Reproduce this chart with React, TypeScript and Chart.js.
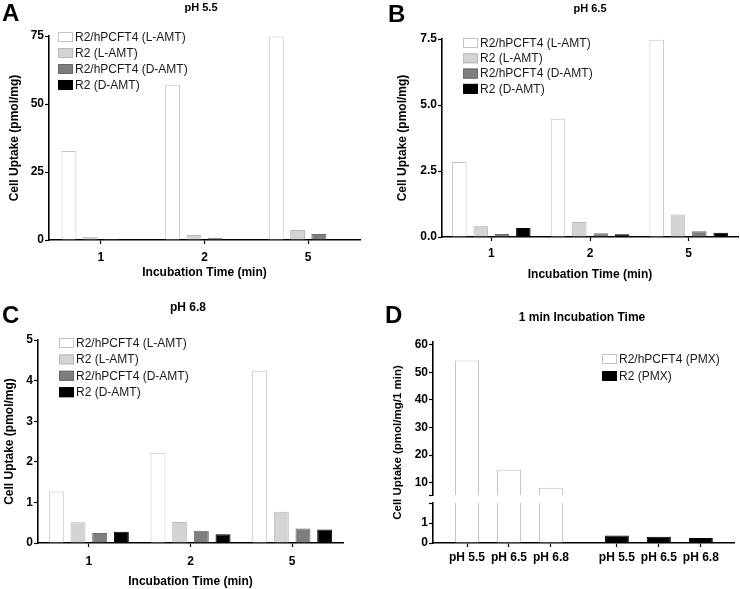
import React, { useEffect, useRef } from "react";
import { Chart, registerables } from "chart.js";

Chart.register(...registerables);

const FONT = "Arial, 'Liberation Sans', Helvetica, sans-serif";

// ---------------- data ----------------
const TIME_LABELS = ["1", "2", "5"];
const SERIES_NAMES = ["R2/hPCFT4 (L-AMT)", "R2 (L-AMT)", "R2/hPCFT4 (D-AMT)", "R2 (D-AMT)"];

// pH 5.5
const PH55_HPCFT4_L = [32.7, 57.1, 74.8];
const PH55_R2_L = [1.2, 1.8, 3.7];
const PH55_HPCFT4_D = [0.4, 0.85, 2.2];
const PH55_R2_D = [0.1, 0.1, 0.1];
const PH55_Y_TICKS = [0, 25, 50, 75];

// pH 6.5
const PH65_HPCFT4_L = [2.84, 4.48, 7.47];
const PH65_R2_L = [0.43, 0.57, 0.85];
const PH65_HPCFT4_D = [0.11, 0.14, 0.22];
const PH65_R2_D = [0.34, 0.1, 0.16];
const PH65_Y_TICKS = [0, 2.5, 5, 7.5];

// pH 6.8
const PH68_HPCFT4_L = [1.27, 2.22, 4.24];
const PH68_R2_L = [0.51, 0.52, 0.77];
const PH68_HPCFT4_D = [0.245, 0.3, 0.36];
const PH68_R2_D = [0.28, 0.215, 0.33];
const PH68_Y_TICKS = [0, 1, 2, 3, 4, 5];

// 1 min incubation, PMX
const PMX_LABELS = ["pH 5.5", "pH 6.5", "pH 6.8"];
const PMX_HPCFT4 = [54.3, 14.7, 8.1];
const PMX_R2 = [0.37, 0.31, 0.25];
const PMX_HPCFT4_X = [1, 2, 3];
const PMX_R2_X = [4.57, 5.57, 6.57];
const PMX_UPPER_TICKS = [10, 20, 30, 40, 50, 60];
const PMX_LOWER_TICKS = [0, 1];
const PMX_BREAK_LOW = 2;
const PMX_BREAK_HIGH = 5.5;
const PMX_TOP = 61;
const PMX_SERIES = ["R2/hPCFT4 (PMX)", "R2 (PMX)"];

// ---------------- styles ----------------
const FILLS = ["#ffffff", "#d4d4d4", "#7e7e7e", "#000000"];
const BORDERS = ["#c4c4c4", "#b9b9b9", "#6a6a6a", "#000000"];

type Geo = { x: number; y: number; w: number; h: number; left: number; top: number; right: number; bottom: number };

interface Decor {
  letter: string;
  letterX: number;
  letterY: number;
  title: string;
  titleX: number;
  titleY: number;
  titleSize: number;
  legendX: number;
  legendY: number;
  legendPitch: number;
  yTitle?: string;
  yTitleX?: number;
  yTitleSize?: number;
}

function makeDecor(d: Decor) {
  return {
    id: "decor",
    afterDraw(chart: any) {
      const ctx = chart.ctx as CanvasRenderingContext2D;
      ctx.save();
      ctx.fillStyle = "#000";
      ctx.font = `bold 24px ${FONT}`;
      ctx.textAlign = "left";
      ctx.textBaseline = "alphabetic";
      ctx.fillText(d.letter, d.letterX, d.letterY);

      ctx.font = `bold ${d.titleSize}px ${FONT}`;
      ctx.textAlign = "center";
      ctx.textBaseline = "middle";
      ctx.fillText(d.title, d.titleX, d.titleY);

      // legend
      const items = chart.data.datasets.filter((ds: any) => ds.label);
      ctx.font = `12px ${FONT}`;
      ctx.textAlign = "left";
      items.forEach((ds: any, i: number) => {
        const y = d.legendY + i * d.legendPitch;
        ctx.fillStyle = ds.backgroundColor;
        ctx.fillRect(d.legendX, y, 15, 10);
        ctx.strokeStyle = ds.borderColor;
        ctx.lineWidth = 1;
        ctx.strokeRect(d.legendX + 0.5, y + 0.5, 14, 9);
        ctx.fillStyle = "#1a1a1a";
        ctx.fillText(ds.label, d.legendX + 17, y + 5.5);
      });

      if (d.yTitle) {
        const a = chart.chartArea;
        ctx.translate(d.yTitleX as number, (a.top + a.bottom) / 2);
        ctx.rotate(-Math.PI / 2);
        ctx.font = `bold ${d.yTitleSize}px ${FONT}`;
        ctx.fillStyle = "#000";
        ctx.textAlign = "center";
        ctx.textBaseline = "middle";
        ctx.fillText(d.yTitle, 0, 0);
      }
      ctx.restore();
    },
  };
}

const tickFont = { size: 12, weight: "bold" as const, family: FONT };
const axisBorder = { display: true, color: "#000", width: 1.6 };
const tickGrid = {
  display: true,
  drawOnChartArea: false,
  drawTicks: true,
  tickLength: 4,
  tickColor: "#000",
  tickWidth: 1.2,
  offset: false,
};

interface GroupedSpec {
  geo: Geo;
  decor: Decor;
  series: number[][];
  yTicks: number[];
  yFmt: (v: number) => string;
  yTitleX: number;
  xTickPad: number;
  xTitlePad: number;
  catPct: number;
  barPct: number;
}

function groupedConfig(s: GroupedSpec): any {
  const g = s.geo;
  return {
    type: "bar",
    data: {
      labels: TIME_LABELS,
      datasets: s.series.map((vals, i) => ({
        label: SERIES_NAMES[i],
        data: vals,
        backgroundColor: FILLS[i],
        borderColor: BORDERS[i],
        borderWidth: { top: 1, left: 1, right: 1, bottom: 0 },
        borderSkipped: false,
        categoryPercentage: s.catPct,
        barPercentage: s.barPct,
      })),
    },
    options: {
      responsive: false,
      animation: false,
      events: [],
      layout: { padding: { left: 0, top: g.top, right: g.w - g.right, bottom: 0 } },
      plugins: { legend: { display: false }, title: { display: false }, tooltip: { enabled: false } },
      scales: {
        x: {
          type: "category",
          offset: true,
          grid: tickGrid,
          border: axisBorder,
          ticks: { color: "#000", font: tickFont, padding: s.xTickPad, maxRotation: 0, autoSkip: false },
          title: {
            display: true,
            text: "Incubation Time (min)",
            color: "#000",
            font: { size: 12, weight: "bold", family: FONT },
            padding: { top: 0, bottom: s.xTitlePad },
          },
          afterFit: (sc: any) => {
            sc.height = g.h - g.bottom;
          },
        },
        y: {
          type: "linear",
          min: s.yTicks[0],
          max: s.yTicks[s.yTicks.length - 1],
          beginAtZero: false,
          afterBuildTicks: (sc: any) => {
            sc.ticks = s.yTicks.map((v) => ({ value: v }));
          },
          grid: tickGrid,
          border: axisBorder,
          ticks: {
            color: "#000",
            font: tickFont,
            padding: 1,
            autoSkip: false,
            callback: (v: any) => s.yFmt(Number(v)),
          },
          title: {
            display: true,
            text: "Cell Uptake (pmol/mg)",
            color: "#000",
            font: { size: 12, weight: "bold", family: FONT },
            padding: { top: s.yTitleX - 7.2, bottom: 0 },
          },
          afterFit: (sc: any) => {
            sc.width = g.left;
          },
        },
      },
    },
    plugins: [makeDecor(s.decor)],
  };
}

const GEO_A: Geo = { x: 0, y: 0, w: 370, h: 290, left: 49, top: 36, right: 360, bottom: 240 };
const GEO_B: Geo = { x: 370, y: 0, w: 370, h: 290, left: 72, top: 39, right: 368, bottom: 237 };
const GEO_C: Geo = { x: 0, y: 290, w: 370, h: 299, left: 38, top: 50, right: 343, bottom: 253 };
const GEO_D: Geo = { x: 370, y: 290, w: 370, h: 299, left: 63, top: 52, right: 364, bottom: 253 };

function configA() {
  return groupedConfig({
    geo: GEO_A,
    decor: { letter: "A", letterX: 2, letterY: 21, title: "pH 5.5", titleX: 201, titleY: 8, titleSize: 11, legendX: 58, legendY: 32, legendPitch: 16 },
    series: [PH55_HPCFT4_L, PH55_R2_L, PH55_HPCFT4_D, PH55_R2_D],
    yTicks: PH55_Y_TICKS,
    yFmt: (v) => String(v),
    yTitleX: 15,
    xTickPad: 6,
    xTitlePad: 10,
    catPct: 0.82,
    barPct: 0.7,
  });
}

function configB() {
  return groupedConfig({
    geo: GEO_B,
    decor: { letter: "B", letterX: 18, letterY: 22, title: "pH 6.5", titleX: 220, titleY: 9, titleSize: 11, legendX: 93, legendY: 38, legendPitch: 15.3 },
    series: [PH65_HPCFT4_L, PH65_R2_L, PH65_HPCFT4_D, PH65_R2_D],
    yTicks: PH65_Y_TICKS,
    yFmt: (v) => v.toFixed(1),
    yTitleX: 33,
    xTickPad: 5,
    xTitlePad: 8,
    catPct: 0.865,
    barPct: 0.68,
  });
}

function configC() {
  return groupedConfig({
    geo: GEO_C,
    decor: { letter: "C", letterX: 2, letterY: 33, title: "pH 6.8", titleX: 188, titleY: 18, titleSize: 12, legendX: 59, legendY: 48, legendPitch: 16.4 },
    series: [PH68_HPCFT4_L, PH68_R2_L, PH68_HPCFT4_D, PH68_R2_D],
    yTicks: PH68_Y_TICKS,
    yFmt: (v) => String(v),
    yTitleX: 10,
    xTickPad: 7,
    xTitlePad: 0,
    catPct: 0.853,
    barPct: 0.69,
  });
}

function configD(): any {
  const g = GEO_D;
  const xs = [...PMX_HPCFT4_X, ...PMX_R2_X];
  const xl = [...PMX_LABELS, ...PMX_LABELS];
  const yAxisCommon = {
    type: "linear",
    position: "left",
    stack: "pmx",
    beginAtZero: false,
    grid: tickGrid,
    border: axisBorder,
    afterFit: (sc: any) => {
      sc.width = g.left;
    },
  };
  return {
    type: "bar",
    data: {
      datasets: [
        {
          label: PMX_SERIES[0],
          data: PMX_HPCFT4.map((v, i) => ({ x: PMX_HPCFT4_X[i], y: [PMX_BREAK_HIGH, v] })),
          yAxisID: "yUpper",
          backgroundColor: FILLS[0],
          borderColor: BORDERS[0],
          borderWidth: { top: 1, left: 1, right: 1, bottom: 0 },
          borderSkipped: false,
          grouped: false,
          categoryPercentage: 1,
          barPercentage: 0.571,
        },
        {
          label: "",
          data: PMX_HPCFT4.map((v, i) => ({ x: PMX_HPCFT4_X[i], y: Math.min(v, PMX_BREAK_LOW) })),
          yAxisID: "yLower",
          backgroundColor: FILLS[0],
          borderColor: BORDERS[0],
          borderWidth: { top: 0, left: 1, right: 1, bottom: 0 },
          borderSkipped: false,
          grouped: false,
          categoryPercentage: 1,
          barPercentage: 0.571,
        },
        {
          label: PMX_SERIES[1],
          data: PMX_R2.map((v, i) => ({ x: PMX_R2_X[i], y: v })),
          yAxisID: "yLower",
          backgroundColor: FILLS[3],
          borderColor: BORDERS[3],
          borderWidth: { top: 1, left: 1, right: 1, bottom: 0 },
          borderSkipped: false,
          grouped: false,
          categoryPercentage: 1,
          barPercentage: 0.571,
        },
      ],
    },
    options: {
      responsive: false,
      animation: false,
      events: [],
      layout: { padding: { left: 0, top: g.top, right: g.w - g.right, bottom: 0 } },
      plugins: { legend: { display: false }, title: { display: false }, tooltip: { enabled: false } },
      scales: {
        x: {
          type: "linear",
          min: 0.19,
          max: 7.36,
          offset: false,
          grid: tickGrid,
          border: axisBorder,
          afterBuildTicks: (sc: any) => {
            sc.ticks = xs.map((v) => ({ value: v }));
          },
          ticks: {
            color: "#000",
            font: tickFont,
            padding: 3,
            maxRotation: 0,
            autoSkip: false,
            callback: (_v: any, i: number) => xl[i],
          },
          afterFit: (sc: any) => {
            sc.height = g.h - g.bottom;
          },
        },
        yUpper: {
          ...yAxisCommon,
          weight: 3,
          stackWeight: 153,
          min: PMX_BREAK_HIGH,
          max: PMX_TOP,
          afterBuildTicks: (sc: any) => {
            sc.ticks = [PMX_BREAK_HIGH, ...PMX_UPPER_TICKS].map((v) => ({ value: v }));
          },
          ticks: {
            color: "#000",
            font: tickFont,
            padding: 1,
            autoSkip: false,
            callback: (v: any) => (PMX_UPPER_TICKS.includes(Number(v)) ? String(v) : ""),
          },
        },
        yGap: {
          type: "linear",
          position: "left",
          stack: "pmx",
          weight: 2,
          stackWeight: 8,
          grid: { display: false },
          border: { display: false },
          ticks: { display: false },
          afterFit: (sc: any) => {
            sc.width = g.left;
          },
        },
        yLower: {
          ...yAxisCommon,
          weight: 1,
          stackWeight: 40,
          min: 0,
          max: PMX_BREAK_LOW,
          afterBuildTicks: (sc: any) => {
            sc.ticks = [...PMX_LOWER_TICKS, PMX_BREAK_LOW].map((v) => ({ value: v }));
          },
          ticks: {
            color: "#000",
            font: tickFont,
            padding: 1,
            autoSkip: false,
            callback: (v: any) => (PMX_LOWER_TICKS.includes(Number(v)) ? String(v) : ""),
          },
        },
      },
    },
    plugins: [
      makeDecor({
        letter: "D",
        letterX: 15,
        letterY: 33,
        title: "1 min Incubation Time",
        titleX: 212,
        titleY: 28,
        titleSize: 12,
        legendX: 232,
        legendY: 64,
        legendPitch: 17,
        yTitle: "Cell Uptake (pmol/mg/1 min)",
        yTitleX: 28,
        yTitleSize: 11.5,
      }),
    ],
  };
}

function Panel({ geo, build }: { geo: Geo; build: () => any }) {
  const ref = useRef<HTMLCanvasElement | null>(null);
  useEffect(() => {
    if (!ref.current) return;
    const chart = new Chart(ref.current, build());
    return () => chart.destroy();
  }, []);
  return (
    <canvas
      ref={ref}
      width={geo.w}
      height={geo.h}
      style={{ position: "absolute", left: geo.x, top: geo.y, width: geo.w, height: geo.h }}
    />
  );
}

export default function App() {
  Chart.defaults.font.family = FONT;
  Chart.defaults.color = "#000";
  return (
    <div style={{ position: "absolute", left: 0, top: 0, width: 740, height: 589, background: "#fff", overflow: "hidden" }}>
      <Panel geo={GEO_A} build={configA} />
      <Panel geo={GEO_B} build={configB} />
      <Panel geo={GEO_C} build={configC} />
      <Panel geo={GEO_D} build={configD} />
    </div>
  );
}
